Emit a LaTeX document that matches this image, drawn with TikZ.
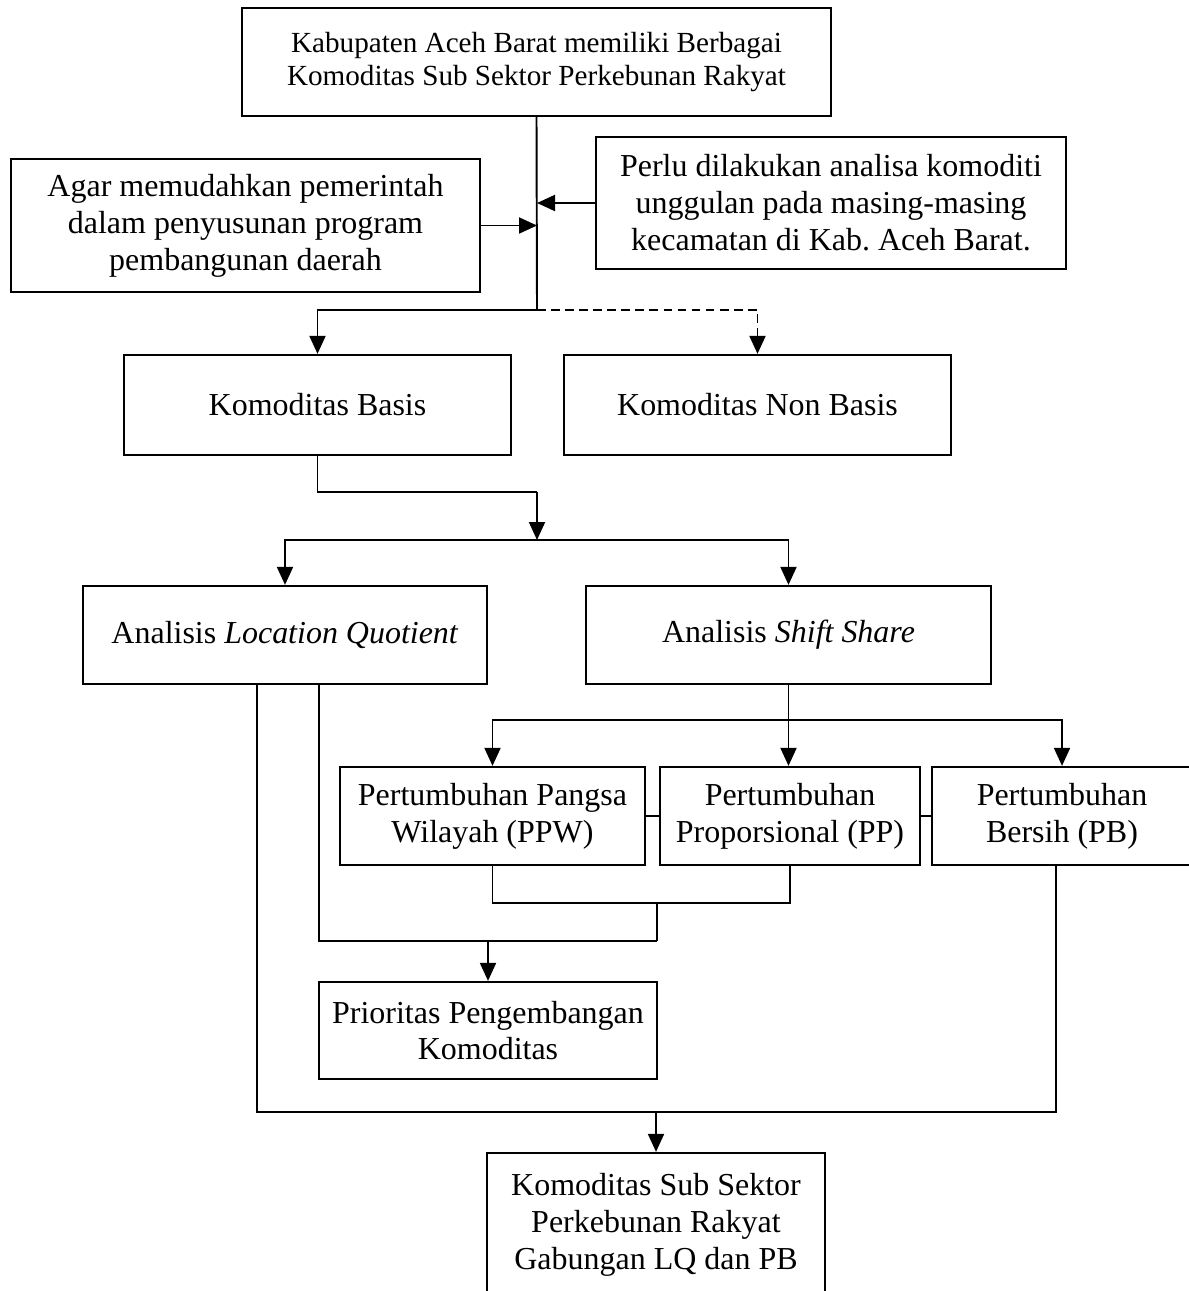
\documentclass[tikz,border=0pt]{standalone}
\usepackage{fontspec}
\setmainfont{Liberation Serif}
\usepackage{tikz}
\usetikzlibrary{arrows.meta}

\begin{document}
\begin{tikzpicture}[x=0.02cm,y=-0.02cm,>={Triangle[length=0.36cm,width=0.32cm]},semithick]

		\tikzstyle{box}=[draw=black,line width=1.3pt,align=center,inner sep=0pt,font=\fontsize{18.2}{21}\selectfont]
		\tikzstyle{wire}=[line width=1.1pt]
		\tikzstyle{arr}=[wire,->]

		\useasboundingbox (0,0) rectangle (1188,1291);

		\node[box,minimum width=11.78cm,minimum height=2.16cm,font=\fontsize{16.6}{19.3}\selectfont] (kab) at (536.5,62) {Kabupaten Aceh Barat memiliki Berbagai\\Komoditas Sub Sektor Perkebunan Rakyat};
		\node[box,minimum width=9.38cm,minimum height=2.66cm] (agar)  at (245.5,225.5) {Agar memudahkan pemerintah\\dalam penyusunan program\\pembangunan daerah};
		\node[box,minimum width=9.4cm,minimum height=2.64cm]  (perlu) at (831,203) {Perlu dilakukan analisa komoditi\\unggulan pada masing-masing\\kecamatan di Kab.\ Aceh Barat.};
		\node[box,minimum width=7.74cm,minimum height=2cm]    (basis)    at (317.5,405) {Komoditas Basis};
		\node[box,minimum width=7.74cm,minimum height=2cm]    (nonbasis) at (757.5,405) {Komoditas Non Basis};
		\node[box,minimum width=8.08cm,minimum height=1.96cm] (lq) at (285,635)   {Analisis \textit{Location Quotient}};
		\node[box,minimum width=8.1cm,minimum height=1.96cm]  (ss) at (788.5,635) {Analisis \textit{Shift Share}};
		\node[box,minimum width=6.1cm,minimum height=1.96cm]  (ppw) at (492.5,816) {Pertumbuhan Pangsa\\Wilayah (PPW)};
		\node[box,minimum width=5.2cm,minimum height=1.96cm]  (pp)  at (790,816)   {Pertumbuhan\\Proporsional (PP)};
		\node[box,minimum width=5.2cm,minimum height=1.96cm]  (pb)  at (1062,816)  {Pertumbuhan\\Bersih (PB)};
		\node[box,minimum width=6.76cm,minimum height=1.94cm] (prio)  at (488,1030.5) {Prioritas Pengembangan\\Komoditas};
		\node[box,minimum width=6.76cm,minimum height=2.88cm] (hasil) at (656,1225)   {Komoditas Sub Sektor\\Perkebunan Rakyat\\Gabungan LQ dan PB};

		% junctions
		\coordinate (split) at (537,310);
		\coordinate (bas)   at (537,492);
		\coordinate (dist)  at (537,540);
		\coordinate (sdist) at (788.5,720);
		\coordinate (m1)    at (657,903);
		\coordinate (m2)    at (657,941);
		\coordinate (m3)    at (656,1112);

		\draw[wire] (kab.south) -- (split);
		\draw[arr] (agar.east) -- (agar.east -| split);
		\draw[arr] (perlu.west) -- (perlu.west -| split);
		\draw[arr] (split) -| (basis.north);
		\draw[arr,dash pattern=on 5pt off 3pt] (split) -| (nonbasis.north);

		\draw[wire] (basis.south) |- (bas);
		\draw[arr] (bas) -- (dist);
		\draw[arr] (dist) -| (lq.north);
		\draw[arr] (dist) -| (ss.north);

		\draw[wire] (ss.south) -- (sdist);
		\draw[arr] (sdist) -| (ppw.north);
		\draw[arr] (sdist) -- (sdist |- pp.north);
		\draw[arr] (sdist) -| (pb.north);
		\draw[wire] (ppw.east) -- (pp.west);
		\draw[wire] (pp.east) -- (pb.west);

		\draw[wire] (ppw.south) |- (m1) -| (pp.south);
		\draw[wire] (m1) -- (m2);
		\draw[wire] ([xshift=0.68cm]lq.south) |- (m2);
		\draw[arr] (prio.north |- m2) -- (prio.north);

		\draw[wire] ([xshift=-0.56cm]lq.south) |- (m3) -| ([xshift=-0.12cm]pb.south);
		\draw[arr] (m3) -- (hasil.north);

	\end{tikzpicture}
\end{document}
